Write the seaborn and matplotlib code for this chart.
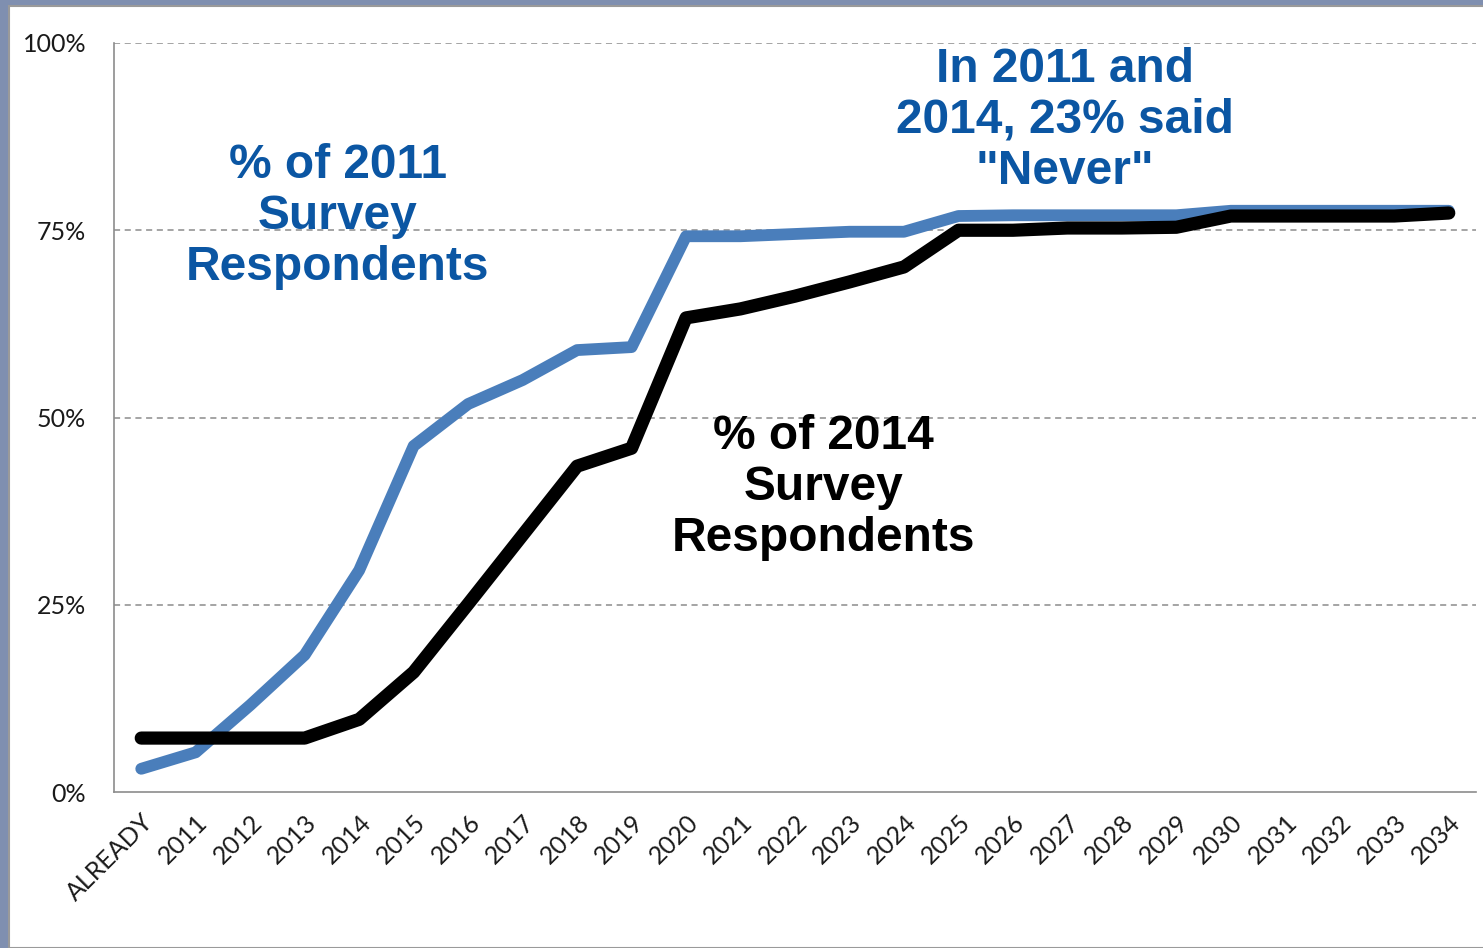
import pandas as pd
import matplotlib
matplotlib.use("Agg")
import matplotlib.pyplot as plt
import seaborn as sns
from matplotlib.patches import Rectangle

# data
categories = ["ALREADY"] + [str(y) for y in range(2011, 2035)]
pct_2011 = [3.1, 5.3, 11.6, 18.3, 29.6, 46.2, 51.8, 55.0, 59.0, 59.4,
            74.2, 74.2, 74.5, 74.8, 74.8, 76.9, 77.0, 77.0, 77.0, 77.0,
            77.6, 77.6, 77.6, 77.6, 77.6]
pct_2014 = [7.2, 7.2, 7.2, 7.2, 9.7, 16.0, 25.1, 34.3, 43.5, 45.9,
            63.3, 64.5, 66.2, 68.1, 70.1, 75.0, 75.0, 75.3, 75.3, 75.4,
            76.9, 76.9, 76.9, 76.9, 77.3]
y_ticks = [0, 25, 50, 75, 100]

df = pd.DataFrame({"pos": range(len(categories)), "cat": categories,
                   "s2011": pct_2011, "s2014": pct_2014})

sns.set_style("white")
plt.rcParams["font.family"] = ["Liberation Sans", "DejaVu Sans"]

fig = plt.figure(figsize=(14.83, 9.48), dpi=100, facecolor="#7f8fb0")
# white slide panel
fig.patches.append(Rectangle((9 / 1483, 0), 1, 1 - 6 / 948, transform=fig.transFigure,
                             facecolor="white", edgecolor="#9a9a9a", linewidth=1.5, zorder=-5))
ax = fig.add_axes([114 / 1483, 1 - 792 / 948, (1476 - 114) / 1483, (792 - 43) / 948])
ax.set_facecolor("none")

sns.lineplot(data=df, x="pos", y="s2011", ax=ax, color="#4a7ebb", linewidth=8.5,
             solid_capstyle="round", solid_joinstyle="round", zorder=3)
sns.lineplot(data=df, x="pos", y="s2014", ax=ax, color="black", linewidth=9.5,
             solid_capstyle="round", solid_joinstyle="round", zorder=4)

ax.set_xlim(-0.5, len(categories) - 0.5)
ax.set_ylim(0, 100)
ax.set_xlabel("")
ax.set_ylabel("")

# y axis
ax.set_yticks(y_ticks)
ax.set_yticklabels([f"{v}%" for v in y_ticks], fontsize=18, color="#1a1a1a",
                   family=["Lato", "DejaVu Sans"])
ax.tick_params(axis="y", length=10, width=1.2, color="#8c8c8c", pad=10, direction="out")
for v in y_ticks[1:]:
    ax.axhline(v, color="#8c8c8c", linestyle=(0, (4, 3)), linewidth=1.1, zorder=1)

# x axis: boundary ticks, labels at category centres
ax.set_xticks([i - 0.5 for i in range(len(categories) + 1)])
ax.set_xticklabels([])
ax.tick_params(axis="x", which="major", length=11, width=1.2, color="#8c8c8c", direction="out")
ax.set_xticks(df["pos"], minor=True)
ax.set_xticklabels(categories, minor=True, rotation=45, ha="right", rotation_mode="anchor",
                   fontsize=18, color="#1a1a1a", family=["Lato", "DejaVu Sans"])
ax.tick_params(axis="x", which="minor", length=0, pad=13)

for side in ["top", "right"]:
    ax.spines[side].set_visible(False)
for side in ["left", "bottom"]:
    ax.spines[side].set_color("#8c8c8c")
    ax.spines[side].set_linewidth(1.2)

# annotations
ax.text(3.61, 76.8, "% of 2011\nSurvey\nRespondents", color="#0b56a3", fontsize=34.5,
        fontweight="bold", ha="center", va="center", linespacing=1.17, zorder=5)
ax.text(12.53, 40.6, "% of 2014\nSurvey\nRespondents", color="black", fontsize=34.5,
        fontweight="bold", ha="center", va="center", linespacing=1.17, zorder=5)
ax.text(16.95, 89.7, "In 2011 and\n2014, 23% said\n\"Never\"", color="#0b56a3", fontsize=34.5,
        fontweight="bold", ha="center", va="center", linespacing=1.17, zorder=5)

fig.savefig("out.png", dpi=100, facecolor=fig.get_facecolor())
